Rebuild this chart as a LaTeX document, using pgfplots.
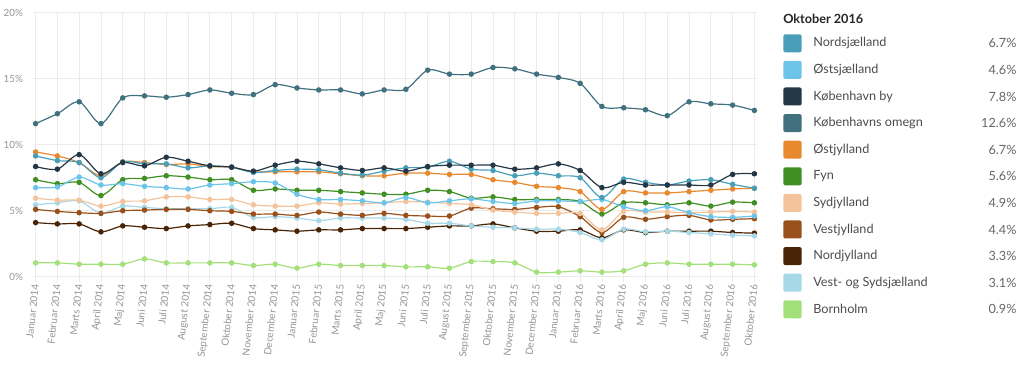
\documentclass[border=0pt]{standalone}
\usepackage{fontspec}
\setmainfont{Lato}
\usepackage{pgfplots}
\usepackage{pgfplotstable}
\pgfplotsset{compat=1.18}
\definecolor{cNord}{HTML}{4A9FB8}
\definecolor{cOst}{HTML}{6CC5E9}
\definecolor{cKbh}{HTML}{243746}
\definecolor{cOmegn}{HTML}{41707F}
\definecolor{cOstj}{HTML}{E8892F}
\definecolor{cFyn}{HTML}{3F8F22}
\definecolor{cSydj}{HTML}{F3C49B}
\definecolor{cVestj}{HTML}{99501A}
\definecolor{cNordj}{HTML}{4A2406}
\definecolor{cVS}{HTML}{A6D8E8}
\definecolor{cBorn}{HTML}{A4E07A}
\definecolor{gridc}{HTML}{EBEBEB}
\definecolor{tickc}{HTML}{959595}

\pgfplotstableread{
x  nord ost  kbh  omegn ostj fyn  sydj vestj nordj vs   born
0  9.15 6.75 8.35 11.60 9.45 7.35 5.95 5.10 4.10 5.45 1.05
1  8.80 6.80 8.15 12.35 9.15 7.05 5.80 4.95 4.00 5.60 1.05
2  8.65 7.55 9.25 13.25 8.65 7.15 5.80 4.85 4.00 5.75 0.95
3  7.50 6.95 7.80 11.60 7.65 6.15 5.35 4.80 3.40 4.80 0.95
4  8.70 7.05 8.65 13.55 8.70 7.35 5.70 5.00 3.85 5.35 0.95
5  8.55 6.85 8.40 13.70 8.65 7.45 5.75 5.05 3.75 5.25 1.35
6  8.55 6.75 9.05 13.60 8.50 7.65 6.05 5.10 3.65 5.15 1.05
7  8.25 6.65 8.75 13.80 8.55 7.55 6.05 5.10 3.85 5.15 1.05
8  8.40 6.95 8.40 14.15 8.35 7.35 5.85 5.00 3.95 5.15 1.05
9  8.30 7.05 8.30 13.90 8.30 7.35 5.85 4.95 4.05 5.25 1.05
10 7.90 7.20 8.00 13.80 7.95 6.55 5.45 4.75 3.65 4.50 0.85
11 8.05 7.10 8.45 14.55 7.95 6.65 5.35 4.75 3.55 4.55 0.95
12 8.15 6.25 8.75 14.30 7.95 6.55 5.35 4.65 3.45 4.45 0.65
13 8.10 5.85 8.55 14.15 7.95 6.55 5.60 4.90 3.55 4.25 0.95
14 7.85 5.85 8.25 14.15 7.80 6.45 5.50 4.75 3.55 4.45 0.85
15 7.70 5.75 8.05 13.85 7.65 6.35 5.55 4.65 3.65 4.45 0.85
16 8.00 5.60 8.25 14.15 7.65 6.25 5.60 4.80 3.65 4.45 0.85
17 8.25 6.00 8.00 14.20 7.85 6.25 5.70 4.65 3.65 4.35 0.75
18 8.30 5.60 8.35 15.65 7.85 6.55 5.65 4.60 3.75 4.05 0.75
19 8.75 5.75 8.45 15.35 7.75 6.45 5.55 4.60 3.85 4.05 0.65
20 8.15 5.90 8.45 15.35 7.75 5.95 5.45 5.20 3.85 3.85 1.15
21 8.05 5.70 8.45 15.85 7.35 6.05 5.05 5.15 4.00 3.75 1.15
22 7.65 5.55 8.15 15.75 7.15 5.85 4.90 5.10 3.70 3.70 1.05
23 7.85 5.75 8.25 15.35 6.85 5.85 4.80 5.25 3.45 3.60 0.35
24 7.65 5.75 8.55 15.10 6.75 5.85 4.80 5.30 3.45 3.60 0.35
25 7.50 5.70 8.05 14.65 6.45 5.70 4.80 4.55 3.55 3.35 0.45
26 6.00 5.85 6.75 12.90 5.10 4.75 3.55 3.35 2.95 2.80 0.35
27 7.40 5.30 7.15 12.80 6.45 5.60 4.95 4.50 3.55 3.60 0.45
28 7.15 5.00 6.95 12.65 6.35 5.60 4.90 4.35 3.35 3.40 0.95
29 6.95 5.30 6.95 12.20 6.35 5.45 4.90 4.55 3.45 3.45 1.05
30 7.25 4.85 6.95 13.25 6.45 5.60 4.85 4.65 3.45 3.35 0.95
31 7.35 4.55 6.95 13.10 6.55 5.35 4.90 4.30 3.45 3.25 0.95
32 7.00 4.50 7.75 13.00 6.65 5.65 4.95 4.35 3.35 3.15 0.95
33 6.70 4.60 7.80 12.60 6.70 5.60 4.90 4.40 3.30 3.10 0.90
}\data

\begin{document}
\begin{tikzpicture}
\useasboundingbox (0,0) rectangle (768pt,281.25pt);
\begin{axis}[
  at={(24.75pt,73.7pt)}, anchor=south west,
  scale only axis, width=543pt, height=198pt,
  xmin=-0.12, xmax=33.12, ymin=0, ymax=20,
  axis line style={draw=none},
  xtick={0,...,33},
  xticklabels={Januar 2014,Februar 2014,Marts 2014,April 2014,Maj 2014,Juni 2014,Juli 2014,August 2014,September 2014,Oktober 2014,November 2014,December 2014,Januar 2015,Februar 2015,Marts 2015,April 2015,Maj 2015,Juni 2015,Juli 2015,August 2015,September 2015,Oktober 2015,November 2015,December 2015,Januar 2016,Februar 2016,Marts 2016,April 2016,Maj 2016,Juni 2016,Juli 2016,August 2016,September 2016,Oktober 2016},
  ytick={0,5,10,15,20},
  yticklabel={\pgfmathprintnumber{\tick}\%},
  /pgf/number format/assume math mode=true,
  xmajorgrids, ymajorgrids,
  grid style={gridc, line width=0.6pt},
  x tick style={gridc, line width=0.6pt},
  y tick style={draw=none},
  tick align=outside, major tick length=4pt,
  xtick pos=bottom,
  xticklabel style={rotate=84, anchor=east, font=\fontsize{7.5pt}{9pt}\selectfont, color=tickc, inner sep=1.5pt},
  yticklabel style={font=\fontsize{7.4pt}{9pt}\selectfont, color=tickc},
  every axis plot/.append style={smooth, line width=0.9pt, mark=*, mark size=1.6pt},
]
\addplot[color=cBorn] table[x=x,y=born]{\data};
\addplot[color=cNordj] table[x=x,y=nordj]{\data};
\addplot[color=cVS] table[x=x,y=vs]{\data};
\addplot[color=cVestj] table[x=x,y=vestj]{\data};
\addplot[color=cSydj] table[x=x,y=sydj]{\data};
\addplot[color=cFyn] table[x=x,y=fyn]{\data};
\addplot[color=cOst] table[x=x,y=ost]{\data};
\addplot[color=cOstj] table[x=x,y=ostj]{\data};
\addplot[color=cNord] table[x=x,y=nord]{\data};
\addplot[color=cKbh] table[x=x,y=kbh]{\data};
\addplot[color=cOmegn] table[x=x,y=omegn]{\data};
\end{axis}
% legend
\node[anchor=west, font=\fontsize{9.5pt}{11pt}\selectfont\bfseries, text=black!85, inner sep=0pt] at (587.25pt,267pt) {Oktober 2016};
\foreach \n/\c/\v [count=\i] in {Nordsjælland/cNord/6.7\%,Østsjælland/cOst/4.6\%,København by/cKbh/7.8\%,Københavns omegn/cOmegn/12.6\%,Østjylland/cOstj/6.7\%,Fyn/cFyn/5.6\%,Sydjylland/cSydj/4.9\%,Vestjylland/cVestj/4.4\%,Nordjylland/cNordj/3.3\%,Vest- og Sydsjælland/cVS/3.1\%,Bornholm/cBorn/0.9\%}{
  \pgfmathsetmacro{\yy}{(375-43.3-(\i-1)*26.6)*0.75}
  \fill[\c, rounded corners=1.5pt] (587.5pt,\yy pt-6.75pt) rectangle (601.25pt,\yy pt+6.75pt);
  \node[anchor=west, font=\fontsize{9.5pt}{11pt}\selectfont, text=black!70, inner sep=0pt] at (609.75pt,\yy pt) {\n};
  \node[anchor=east, font=\fontsize{9.5pt}{11pt}\selectfont, text=black!60, inner sep=0pt] at (762.5pt,\yy pt) {\v};
}
\end{tikzpicture}
\end{document}
